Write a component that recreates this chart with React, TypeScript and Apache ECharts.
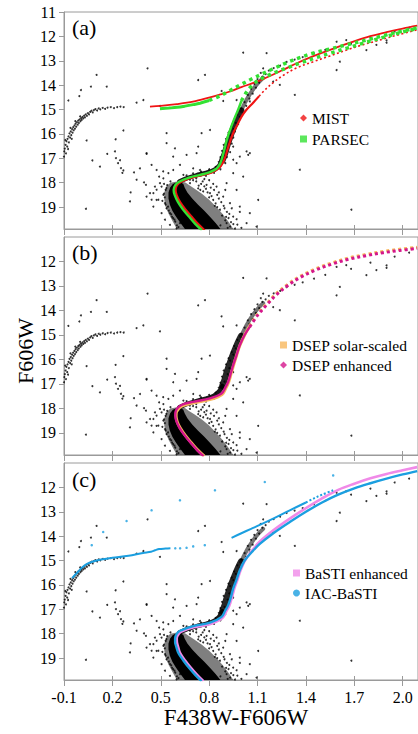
import React, { useEffect, useRef } from "react";
import * as echarts from "echarts";

type Pt = [number, number];

// ---------- axes ----------
const X_TICKS = [-0.1, 0.2, 0.5, 0.8, 1.1, 1.4, 1.7, 2.0];
const Y_TICKS_A = [11, 12, 13, 14, 15, 16, 17, 18, 19];
const Y_TICKS_BC = [12, 13, 14, 15, 16, 17, 18, 19];
const PANEL_LABELS = ["(a)", "(b)", "(c)"];
const X_NAME = "F438W-F606W";
const Y_NAME = "F606W";

// ---------- observed stars (same in all panels) ----------
const HB_STARS: Pt[] = [
  [-0.1, 16.93], [-0.098, 16.72], [-0.095, 16.6], [-0.09, 16.45], [-0.088, 16.8], [-0.085, 16.3],
  [-0.08, 16.52], [-0.078, 16.2], [-0.072, 16.1], [-0.07, 16.35], [-0.066, 15.98], [-0.062, 16.15],
  [-0.058, 15.9], [-0.055, 16.05], [-0.05, 15.8], [-0.047, 15.95], [-0.043, 15.72], [-0.04, 15.85],
  [-0.035, 15.65], [-0.032, 15.78], [-0.028, 15.58], [-0.024, 15.7], [-0.02, 15.52], [-0.015, 15.62],
  [-0.012, 15.45], [-0.008, 15.55], [-0.003, 15.4], [0.002, 15.48], [0.006, 15.35], [0.01, 15.42],
  [0.015, 15.3], [0.02, 15.36], [0.025, 15.25], [0.03, 15.32], [0.035, 15.2], [0.042, 15.26],
  [0.048, 15.15], [0.055, 15.2], [0.062, 15.1], [0.07, 15.05], [0.078, 15.12], [0.085, 15.02],
  [0.095, 14.98], [0.105, 15.04], [0.115, 14.95], [0.125, 14.99], [0.14, 14.93], [0.155, 14.97],
  [0.17, 14.92], [0.19, 14.9], [0.21, 14.94], [0.23, 14.9], [0.25, 14.88], [0.27, 14.9],
  [-0.092, 16.25], [-0.06, 15.75], [-0.03, 15.48], [0.0, 15.28], [-0.075, 16.62], [-0.052, 16.2],
];

const FIELD_STARS: Pt[] = [
  [0.102, 13.58], [0.418, 13.31], [0.005, 14.2], [-0.005, 14.45], [-0.073, 14.63], [0.067, 14.06],
  [0.165, 14.06], [0.35, 14.72], [0.392, 14.61], [0.268, 15.86], [0.22, 16.22], [0.04, 16.27],
  [0.168, 16.82], [0.076, 17.09], [0.123, 17.34], [0.216, 16.72], [0.222, 16.99], [0.235, 17.2],
  [0.247, 17.08], [0.253, 17.4], [0.262, 17.6], [0.268, 17.5], [0.334, 17.58], [0.371, 17.41],
  [0.412, 16.82], [0.443, 17.27], [0.396, 17.99], [0.408, 18.09], [0.35, 17.88], [0.313, 18.4],
  [0.309, 18.77], [0.036, 19.07], [0.474, 17.48], [0.49, 17.75], [0.536, 15.97], [0.577, 16.93],
  [0.515, 17.54], [0.732, 13.79], [0.774, 13.58], [0.753, 15.97], [0.732, 16.52], [0.66, 16.86],
  [0.536, 16.38], [0.412, 16.79], [0.588, 16.59], [0.722, 16.79], [1.032, 16.72], [1.042, 16.86],
  [1.104, 18.71], [0.619, 17.27], [0.805, 15.84], [0.99, 16.93], [0.97, 17.2], [1.011, 17.75],
  [0.97, 18.3], [1.052, 19.25], [1.094, 19.8], [0.99, 18.98], [1.032, 19.66], [1.156, 12.69],
  [1.331, 14.4], [1.682, 19.11], [1.362, 17.47], [0.949, 16.52], [1.052, 16.79], [0.949, 17.06],
  [1.61, 13.04], [1.59, 12.22], [1.65, 12.15], [1.775, 12.56], [1.837, 12.35], [1.135, 13.31],
  [1.197, 13.86], [1.238, 13.99], [1.052, 14.67], [0.97, 14.61], [1.59, 13.38], [1.9, 12.16],
  [0.877, 14.24], [0.887, 14.65], [0.495, 14.85], [2.04, 11.64], [1.9, 12.26], [1.011, 12.67],
];

const MS_FRINGE_STARS: Pt[] = [
  [0.908, 18.02], [0.846, 18.16], [0.887, 18.57], [0.949, 19.39], [0.908, 19.66], [0.867, 19.11],
  [0.929, 18.84], [0.825, 18.71], [0.805, 18.43], [0.763, 18.36], [0.732, 18.23], [0.784, 18.09],
  [0.681, 18.02], [0.64, 17.68], [0.577, 17.48], [0.701, 17.41], [0.743, 17.48], [0.547, 17.61],
  [0.516, 17.82], [0.464, 18.16], [0.433, 18.43], [0.474, 18.71], [0.454, 18.98], [0.505, 19.25],
  [0.526, 19.52], [0.557, 19.73], [0.598, 19.87], [0.949, 17.61], [0.495, 18.02], [0.474, 18.29],
  [0.516, 18.5], [0.454, 18.43], [0.485, 18.7], [0.526, 18.84], [0.536, 19.05], [0.505, 18.16],
  [0.443, 18.7], [0.412, 18.57], [0.557, 19.25], [0.577, 19.46], [0.619, 19.66], [0.87, 19.75],
  [0.9, 19.55], [0.93, 19.8], [0.95, 19.7], [0.88, 19.35], [0.91, 19.2], [0.85, 19.0],
  [0.89, 18.95], [0.84, 18.85], [0.8, 18.6], [0.86, 18.4], [0.83, 18.3], [0.78, 18.25],
  [0.75, 18.05], [0.72, 17.95], [0.8, 17.9], [0.77, 17.85], [0.7, 17.9], [0.53, 18.3],
  [0.525, 18.6], [0.53, 18.9], [0.55, 19.15], [0.57, 19.4], [0.59, 19.6], [0.61, 19.82],
  [0.54, 18.1], [0.52, 18.45], [0.51, 18.75], [1.0, 19.85], [0.97, 19.5], [0.99, 19.2],
  [0.92, 19.45], [0.935, 19.62], [0.96, 19.88], [0.915, 19.85], [0.895, 19.05], [0.905, 19.4],
  [0.875, 18.8], [0.86, 18.65], [0.85, 18.5], [0.835, 18.95], [0.815, 18.55], [0.79, 18.4],
  [0.77, 18.15], [0.745, 18.3], [0.81, 18.2], [0.825, 18.05], [0.76, 17.95], [0.735, 18.12],
  [0.9, 18.3], [0.94, 19.05], [0.925, 19.28], [0.975, 19.72], [0.56, 17.95], [0.535, 18.22],
  [0.545, 18.98], [0.565, 19.3], [0.585, 19.52], [0.6, 19.75], [0.62, 19.95], [0.52, 18.05],
];

const RGB_FRINGE_STARS: Pt[] = [
  [0.66, 17.7], [0.7, 17.62], [0.75, 17.55], [0.8, 17.45], [0.84, 17.35], [0.87, 17.45],
  [0.83, 17.6], [0.78, 17.72], [0.72, 17.82], [0.68, 17.88], [0.86, 17.15], [0.9, 17.2],
  [0.91, 16.95], [0.87, 16.95], [0.88, 16.7], [0.93, 16.75], [0.89, 16.45], [0.94, 16.4],
  [0.905, 16.2], [0.95, 16.15], [0.92, 15.95], [0.96, 15.9], [0.94, 15.7], [0.98, 15.6],
  [0.955, 15.45], [0.99, 15.3], [0.975, 15.2], [1.01, 15.15], [1.0, 14.95], [1.03, 14.85],
  [1.02, 14.7], [1.05, 14.55], [1.04, 14.4], [1.07, 14.35], [1.06, 14.15], [1.09, 14.1],
  [1.08, 13.95], [1.11, 13.9], [1.1, 13.75], [1.13, 13.65], [1.15, 13.55], [1.12, 13.5],
  [1.17, 13.4], [1.2, 13.3], [1.24, 13.2], [1.28, 13.05], [1.33, 12.95], [1.38, 12.85],
  [1.45, 12.7], [1.52, 12.55], [1.68, 12.3], [1.8, 12.05], [1.95, 11.8],
  [0.895, 16.9], [0.915, 16.6], [0.925, 16.35], [0.93, 16.05], [0.95, 15.8], [0.965, 15.55],
];

// dense parts of the observed sequence
const MS_CORE_OUTLINE: Pt[] = [
  [0.6, 17.98], [0.575, 18.05], [0.558, 18.2], [0.548, 18.4], [0.548, 18.65], [0.556, 18.9],
  [0.572, 19.15], [0.595, 19.4], [0.622, 19.65], [0.65, 19.9], [0.87, 19.9], [0.84, 19.65],
  [0.805, 19.4], [0.77, 19.15], [0.73, 18.9], [0.695, 18.65], [0.665, 18.4], [0.648, 18.2],
  [0.64, 18.05], [0.62, 17.97],
];
const MS_HALO_OUTLINE: Pt[] = [
  [0.6, 17.95], [0.56, 18.0], [0.535, 18.15], [0.522, 18.4], [0.522, 18.7], [0.53, 19.0],
  [0.55, 19.3], [0.575, 19.6], [0.6, 19.9], [0.95, 19.9], [0.92, 19.6], [0.885, 19.3],
  [0.845, 19.0], [0.8, 18.7], [0.755, 18.45], [0.71, 18.25], [0.675, 18.1], [0.65, 17.98],
];
const SGB_RIDGE: Pt[] = [
  [0.615, 17.95], [0.66, 17.82], [0.72, 17.7], [0.78, 17.6], [0.83, 17.48], [0.862, 17.3],
  [0.882, 17.08],
];
const LOWER_RGB_RIDGE: Pt[] = [
  [0.882, 17.08], [0.897, 16.82], [0.91, 16.52], [0.925, 16.22], [0.942, 15.9], [0.96, 15.6],
  [0.978, 15.32], [0.998, 15.05],
];
const UPPER_RGB_RIDGE: Pt[] = [
  [0.998, 15.05], [1.02, 14.75], [1.045, 14.45], [1.075, 14.15], [1.105, 13.9], [1.135, 13.7],
];

// ---------- panel (a) isochrones ----------
const MIST_MS_RGB: Pt[] = [
  [0.772, 19.95], [0.732, 19.7], [0.692, 19.4], [0.653, 19.1], [0.62, 18.8], [0.598, 18.5],
  [0.592, 18.3], [0.601, 18.1], [0.63, 17.95], [0.69, 17.8], [0.76, 17.68], [0.82, 17.57],
  [0.86, 17.41], [0.886, 17.17], [0.902, 16.9], [0.917, 16.57], [0.933, 16.24], [0.955, 15.88],
  [0.978, 15.58], [1.0, 15.3], [1.03, 15.02], [1.073, 14.72], [1.11, 14.45],
];
const MIST_RGB_UPPER: Pt[] = [
  [1.11, 14.45], [1.156, 14.13], [1.2, 13.88], [1.259, 13.6], [1.34, 13.3], [1.445, 13.04],
  [1.55, 12.8], [1.652, 12.56], [1.75, 12.35], [1.858, 12.15], [1.97, 11.94], [2.09, 11.73],
];
const MIST_HB_AGB: Pt[] = [
  [0.433, 14.88], [0.5, 14.85], [0.6, 14.78], [0.7, 14.68], [0.805, 14.5], [0.87, 14.38],
  [0.928, 14.26], [1.0, 14.08], [1.07, 13.92], [1.135, 13.75], [1.25, 13.4], [1.35, 13.08],
  [1.45, 12.8], [1.55, 12.55], [1.67, 12.27], [1.78, 12.03], [1.9, 11.83], [2.0, 11.68], [2.09, 11.56],
];
const PARSEC_MS_RGB: Pt[] = [
  [0.755, 19.95], [0.715, 19.7], [0.676, 19.4], [0.638, 19.1], [0.607, 18.8], [0.586, 18.5],
  [0.58, 18.3], [0.59, 18.1], [0.617, 17.95], [0.676, 17.79], [0.745, 17.68], [0.805, 17.57],
  [0.845, 17.43], [0.868, 17.22], [0.882, 16.95], [0.895, 16.62], [0.908, 16.28], [0.925, 15.93],
  [0.943, 15.6], [0.962, 15.28], [0.982, 14.97], [1.0, 14.65],
];
const PARSEC_RGB_UPPER: Pt[] = [
  [1.0, 14.65], [1.03, 14.3], [1.06, 14.05], [1.094, 13.85], [1.15, 13.65], [1.2, 13.5],
  [1.28, 13.3], [1.37, 13.08], [1.46, 12.88], [1.55, 12.69], [1.66, 12.47], [1.77, 12.25],
  [1.89, 12.02], [2.01, 11.8], [2.09, 11.68],
];
const PARSEC_HB: Pt[] = [
  [0.495, 14.97], [0.55, 14.94], [0.6, 14.91], [0.65, 14.86], [0.7, 14.8], [0.743, 14.74], [0.8, 14.63],
];
const PARSEC_AGB: Pt[] = [
  [0.8, 14.63], [0.87, 14.43], [0.93, 14.22], [0.99, 14.0], [1.06, 13.76], [1.135, 13.52],
  [1.2, 13.32], [1.28, 13.08], [1.362, 12.87], [1.45, 12.68], [1.528, 12.55], [1.65, 12.35],
  [1.775, 12.15], [1.88, 11.97], [1.98, 11.81], [2.09, 11.65],
];

// ---------- panel (b) isochrones ----------
const DSEP_SS_LOWER: Pt[] = [
  [0.77, 19.95], [0.73, 19.7], [0.69, 19.4], [0.652, 19.1], [0.621, 18.8], [0.602, 18.54],
  [0.595, 18.3], [0.598, 18.13], [0.633, 17.9], [0.705, 17.77], [0.81, 17.63], [0.88, 17.43],
  [0.903, 17.18], [0.921, 16.93], [0.937, 16.57], [0.951, 16.25], [0.97, 15.84], [0.99, 15.44],
  [1.02, 15.0], [1.05, 14.64],
];
const DSEP_SS_UPPER: Pt[] = [
  [1.05, 14.64], [1.1, 14.15], [1.16, 13.7], [1.218, 13.3], [1.29, 12.92], [1.362, 12.61],
  [1.46, 12.3], [1.569, 12.04], [1.67, 11.85], [1.775, 11.71], [1.88, 11.59], [1.98, 11.5], [2.09, 11.42],
];
const DSEP_EN_LOWER: Pt[] = [
  [0.765, 19.95], [0.725, 19.7], [0.685, 19.4], [0.648, 19.1], [0.617, 18.8], [0.598, 18.54],
  [0.59, 18.3], [0.592, 18.13], [0.629, 17.86], [0.701, 17.73], [0.805, 17.59], [0.877, 17.39],
  [0.9, 17.15], [0.918, 16.91], [0.935, 16.55], [0.949, 16.23], [0.97, 15.82], [0.99, 15.42],
  [1.02, 15.0], [1.052, 14.67],
];
const DSEP_EN_UPPER: Pt[] = [
  [1.052, 14.67], [1.1, 14.2], [1.16, 13.75], [1.218, 13.35], [1.29, 12.97], [1.362, 12.66],
  [1.46, 12.35], [1.569, 12.09], [1.67, 11.9], [1.775, 11.76], [1.88, 11.64], [1.98, 11.55], [2.09, 11.47],
];

// ---------- panel (c) isochrones ----------
const BASTI_EN: Pt[] = [
  [0.765, 19.95], [0.727, 19.7], [0.687, 19.4], [0.651, 19.1], [0.62, 18.8], [0.607, 18.53],
  [0.6, 18.35], [0.599, 18.19], [0.612, 18.0], [0.632, 17.9], [0.705, 17.74], [0.808, 17.6],
  [0.882, 17.36], [0.906, 17.08], [0.925, 16.85], [0.942, 16.5], [0.956, 16.15], [0.976, 15.78],
  [0.995, 15.4], [1.024, 14.98], [1.065, 14.6], [1.114, 14.22], [1.2, 13.75], [1.3, 13.28],
  [1.4, 12.85], [1.5, 12.45], [1.6, 12.1], [1.7, 11.85], [1.8, 11.63], [1.9, 11.45], [2.0, 11.3], [2.09, 11.17],
];
const IAC_MS_RGB: Pt[] = [
  [0.753, 19.95], [0.715, 19.7], [0.675, 19.4], [0.64, 19.1], [0.61, 18.8], [0.596, 18.53],
  [0.589, 18.35], [0.589, 18.19], [0.6, 18.0], [0.62, 17.88], [0.701, 17.69], [0.805, 17.55],
  [0.877, 17.31], [0.9, 17.05], [0.918, 16.83], [0.935, 16.5], [0.949, 16.15], [0.97, 15.78],
  [0.99, 15.4], [1.02, 15.0], [1.065, 14.65], [1.114, 14.32], [1.2, 13.87], [1.3, 13.42],
  [1.4, 13.0], [1.5, 12.62], [1.6, 12.3], [1.7, 12.04], [1.8, 11.83], [1.9, 11.64], [2.0, 11.47], [2.09, 11.33],
];
const IAC_HB: Pt[] = [
  [-0.05, 15.72], [-0.03, 15.58], [-0.01, 15.44], [0.01, 15.3], [0.04, 15.15], [0.08, 15.04],
  [0.13, 14.96], [0.2, 14.89], [0.3, 14.8], [0.39, 14.69], [0.44, 14.64], [0.465, 14.58],
  [0.49, 14.53], [0.53, 14.51], [0.56, 14.5],
];
const IAC_AGB: Pt[] = [
  [0.939, 14.07], [1.0, 13.88], [1.06, 13.7], [1.114, 13.54], [1.2, 13.27], [1.3, 12.94], [1.4, 12.62],
];
const IAC_AGB_TAIL: Pt[] = [[1.4, 12.62], [1.45, 12.45], [1.5, 12.3], [1.569, 12.12]];
const IAC_SPARSE: Pt[] = [
  [0.59, 14.5], [0.62, 14.5], [0.66, 14.48], [0.701, 14.42], [0.773, 14.37], [0.836, 12.12],
  [1.145, 11.78], [1.569, 11.51], [0.619, 12.53], [0.288, 13.38], [0.143, 13.83], [0.072, 14.37],
  [0.443, 12.94],
];

// ---------- styling ----------
const FONT = "Liberation Serif, Times New Roman, serif";
const AXIS_GRAY = "#9a9a9a";
const RED = "#f01414";
const GREEN = "#33e133";
const ORANGE = "#f8b85e";
const MAGENTA = "#d4168c";
const PINK = "#f08ae8";
const BLUE = "#1b9fe0";
const GRIDS = [
  { top: 12, height: 217 },
  { top: 237, height: 218 },
  { top: 463, height: 217 },
];
const X_MIN = -0.1;
const X_MAX = 2.095;
const Y_MIN = 11;
const Y_MAX = 19.9;

function polygonSeries(outline: Pt[], color: string, p: number) {
  return {
    type: "custom",
    xAxisIndex: 2 * p,
    yAxisIndex: p,
    data: [outline[0]],
    silent: true,
    clip: true,
    z: 1,
    renderItem: (_params: any, api: any) => ({
      type: "polygon",
      shape: { points: outline.map((pt) => api.coord(pt)) },
      style: { fill: color },
    }),
  };
}

function ridge(data: Pt[], p: number, width: number, color: string) {
  return {
    type: "line", xAxisIndex: 2 * p, yAxisIndex: p, data, showSymbol: false, smooth: 0.3,
    silent: true, z: 2, lineStyle: { color, width, cap: "round" },
  };
}

function starSeries(p: number) {
  return [
    polygonSeries(MS_HALO_OUTLINE, "rgba(0,0,0,0.5)", p),
    polygonSeries(MS_CORE_OUTLINE, "#000", p),
    ridge(SGB_RIDGE, p, 4.5, "rgba(0,0,0,0.9)"),
    ridge(LOWER_RGB_RIDGE, p, 6.5, "rgba(0,0,0,0.85)"),
    ridge(UPPER_RGB_RIDGE, p, 4, "rgba(0,0,0,0.55)"),
    {
      type: "scatter", xAxisIndex: 2 * p, yAxisIndex: p, silent: true, z: 3, symbolSize: 2,
      itemStyle: { color: "#000" },
      data: [...HB_STARS, ...FIELD_STARS, ...MS_FRINGE_STARS, ...RGB_FRINGE_STARS],
    },
  ];
}

// empty scatter series that only supply the legend markers
function legendKey(name: string, p: number, color: string) {
  return {
    type: "scatter", name, xAxisIndex: 2 * p, yAxisIndex: p, data: [] as Pt[],
    itemStyle: { color, borderWidth: 0 }, silent: true,
  };
}

function track(name: string, data: Pt[], p: number, color: string, width: number, dash?: number[], z = 5) {
  return {
    type: "line", name, data, xAxisIndex: 2 * p, yAxisIndex: p,
    showSymbol: false, smooth: 0.35, silent: true, z,
    itemStyle: { color },
    lineStyle: { color, width, type: dash || "solid", cap: "butt" },
  };
}

function buildOption() {
  const xAxes: any[] = [];
  const yAxes: any[] = [];
  GRIDS.forEach((_g, i) => {
    const showLabels = i === 2;
    xAxes.push({
      type: "value", gridIndex: i, min: X_MIN, max: X_MAX, position: "bottom",
      axisLine: { show: true, onZero: false, lineStyle: { color: AXIS_GRAY, width: 1 } },
      axisTick: { show: true, length: 6, customValues: X_TICKS, lineStyle: { color: AXIS_GRAY } },
      axisLabel: {
        show: showLabels, customValues: X_TICKS, margin: 9,
        formatter: (v: number) => v.toFixed(1),
        fontFamily: FONT, fontSize: 16, color: "#000",
      },
      splitLine: { show: false },
    });
    xAxes.push({
      type: "value", gridIndex: i, min: X_MIN, max: X_MAX, position: "bottom",
      axisLine: { show: false, onZero: false },
      axisTick: { show: true, inside: true, length: 4, customValues: X_TICKS, lineStyle: { color: AXIS_GRAY } },
      axisLabel: { show: false },
      splitLine: { show: false },
    });
    const yt = i === 0 ? Y_TICKS_A : Y_TICKS_BC;
    yAxes.push({
      type: "value", gridIndex: i, min: Y_MIN, max: Y_MAX, inverse: true,
      axisLine: { show: true, onZero: false, lineStyle: { color: AXIS_GRAY, width: 1 } },
      axisTick: { show: true, length: 5, customValues: yt, lineStyle: { color: AXIS_GRAY } },
      axisLabel: { customValues: yt, margin: 8, fontFamily: FONT, fontSize: 16, color: "#000" },
      splitLine: { show: false },
    });
  });

  const series: any[] = [
    legendKey("MIST", 0, RED),
    legendKey("PARSEC", 0, GREEN),
    legendKey("DSEP solar-scaled", 1, ORANGE),
    legendKey("DSEP enhanced", 1, MAGENTA),
    legendKey("BaSTI enhanced", 2, PINK),
    legendKey("IAC-BaSTI", 2, BLUE),
    ...starSeries(0),
    ...starSeries(1),
    ...starSeries(2),
    // panel (a)
    track("MIST", MIST_MS_RGB, 0, RED, 2.2),
    track("MIST", MIST_RGB_UPPER, 0, RED, 1.6, [2, 2.5]),
    track("MIST", MIST_HB_AGB, 0, RED, 1.8),
    track("PARSEC", PARSEC_MS_RGB, 0, GREEN, 2.4, undefined, 6),
    track("PARSEC", PARSEC_RGB_UPPER, 0, GREEN, 3.5, [3.5, 4], 6),
    track("PARSEC", PARSEC_HB, 0, GREEN, 3, undefined, 6),
    track("PARSEC", PARSEC_AGB, 0, GREEN, 3.5, [3.5, 4], 6),
    // panel (b)
    track("DSEP solar-scaled", DSEP_SS_LOWER, 1, ORANGE, 3),
    track("DSEP solar-scaled", DSEP_SS_UPPER, 1, ORANGE, 3, [3, 3]),
    track("DSEP enhanced", DSEP_EN_LOWER, 1, MAGENTA, 2.4, undefined, 6),
    track("DSEP enhanced", DSEP_EN_UPPER, 1, MAGENTA, 3, [3, 3], 6),
    // panel (c)
    track("BaSTI enhanced", BASTI_EN, 2, PINK, 2.6),
    track("IAC-BaSTI", IAC_MS_RGB, 2, BLUE, 2.4, undefined, 6),
    track("IAC-BaSTI", IAC_HB, 2, BLUE, 2, undefined, 6),
    track("IAC-BaSTI", IAC_AGB, 2, BLUE, 2, undefined, 6),
    track("IAC-BaSTI", IAC_AGB_TAIL, 2, BLUE, 2, [2, 2], 6),
    {
      type: "scatter", name: "IAC-BaSTI", xAxisIndex: 4, yAxisIndex: 2, data: IAC_SPARSE,
      symbolSize: 2.5, itemStyle: { color: BLUE }, silent: true, z: 6,
    },
  ];

  const legendText = { fontFamily: FONT, fontSize: 15.5, color: "#000", lineHeight: 16 };
  const legendBase = {
    orient: "vertical", itemWidth: 7, itemHeight: 7, selectedMode: false,
    textStyle: legendText, padding: 0,
  };

  return {
    animation: false,
    backgroundColor: "#fff",
    grid: GRIDS.map((g) => ({
      left: 64, width: 355, top: g.top, height: g.height,
      show: true, borderColor: AXIS_GRAY, borderWidth: 1, backgroundColor: "transparent",
    })),
    xAxis: xAxes,
    yAxis: yAxes,
    legend: [
      { ...legendBase, left: 300, top: 110, itemGap: 5,
        data: [{ name: "MIST", icon: "diamond" }, { name: "PARSEC", icon: "rect" }] },
      { ...legendBase, left: 280, top: 337, itemGap: 4,
        data: [{ name: "DSEP solar-scaled", icon: "rect" }, { name: "DSEP enhanced", icon: "diamond" }] },
      { ...legendBase, left: 293, top: 565, itemGap: 4,
        data: [{ name: "BaSTI enhanced", icon: "rect" }, { name: "IAC-BaSTI", icon: "circle" }] },
    ],
    graphic: [
      ...PANEL_LABELS.map((t, i) => ({
        type: "text", left: 72, top: [16, 241, 468][i],
        style: { text: t, fontFamily: FONT, fontSize: 22, fill: "#000" },
      })),
      {
        type: "text", x: 25, y: 351, rotation: Math.PI / 2,
        style: { text: Y_NAME, fontFamily: FONT, fontSize: 22, fill: "#000", align: "center", verticalAlign: "middle" },
      },
      {
        type: "text", x: 236, y: 717,
        style: { text: X_NAME, fontFamily: FONT, fontSize: 23, fill: "#000", align: "center", verticalAlign: "middle" },
      },
    ],
    series,
  };
}

export default function App() {
  const ref = useRef<HTMLDivElement>(null);
  useEffect(() => {
    if (!ref.current) return;
    const chart = echarts.init(ref.current, undefined, { renderer: "svg" });
    chart.setOption(buildOption() as any);
    return () => chart.dispose();
  }, []);
  return (
    <div
      ref={ref}
      style={{ position: "fixed", left: 0, top: 0, width: 418, height: 734, background: "#fff" }}
    />
  );
}
